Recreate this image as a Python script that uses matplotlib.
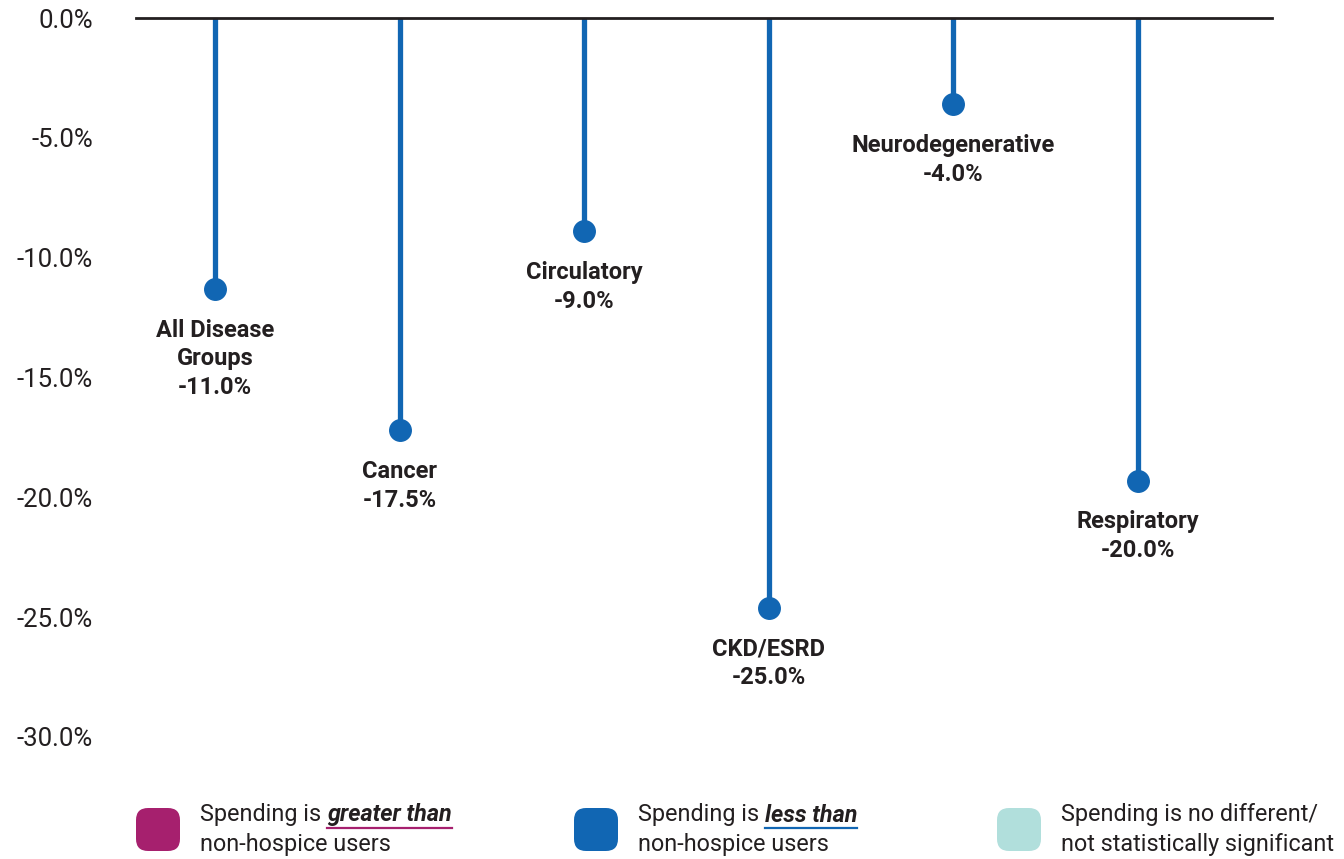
import matplotlib
matplotlib.use("Agg")
import matplotlib.pyplot as plt
from matplotlib.patches import FancyBboxPatch

# values as drawn (dot positions) and the printed labels
CATEGORIES = ["All Disease\nGroups", "Cancer", "Circulatory", "CKD/ESRD", "Neurodegenerative", "Respiratory"]
VALUES = [-11.3, -17.2, -8.9, -24.6, -3.6, -19.3]
LABELS = ["-11.0%", "-17.5%", "-9.0%", "-25.0%", "-4.0%", "-20.0%"]
YTICKS = [0, -5, -10, -15, -20, -25, -30]

LEGEND = [
    ("Spending is ", "greater than", "non-hospice users", "#a6206e"),
    ("Spending is ", "less than", "non-hospice users", "#1166b3"),
    ("Spending is no different/", "", "not statistically significant", "#b1dfdc"),
]

BLUE = "#1166b3"
INK = "#231f20"
FONT = ["Roboto", "DejaVu Sans"]
plt.rcParams["font.family"] = FONT

W, H = 1344, 859
fig = plt.figure(figsize=(W / 100, H / 100), dpi=100)
ax = fig.add_axes([136 / W, 1 - 737 / H, (1272 - 136) / W, (737 - 18) / H])

xs = list(range(len(VALUES)))
for x, v, cat, lab in zip(xs, VALUES, CATEGORIES, LABELS):
    ax.plot([x, x], [0, v], color=BLUE, lw=3.8, solid_capstyle="butt", zorder=2)
    ax.plot(x, v, "o", color=BLUE, ms=15.5, zorder=3)
    ax.annotate(cat + "\n" + lab, (x, v), xytext=(0, -21.5), textcoords="offset points",
                ha="center", va="top", fontsize=17, fontweight="bold", color=INK,
                linespacing=1.32)

ax.axhline(0, color=INK, lw=2, zorder=4, clip_on=False)
ax.set_xlim((136 - 215) / 184.6, (1272 - 215) / 184.6)
ax.set_ylim(-30, 0)
ax.set_yticks(YTICKS)
ax.set_yticklabels([f"{t:.1f}%" if t else "0.0%" for t in YTICKS], fontsize=18.5, color=INK)
ax.tick_params(axis="y", length=0, pad=31)
ax.set_xticks([])
for s in ax.spines.values():
    s.set_visible(False)

# legend drawn by hand (rounded squares + partly underlined text)
box_x = [136, 574, 997]
fig.canvas.draw()
r = fig.canvas.get_renderer()
for bx, (pre, emph, line2, col) in zip(box_x, LEGEND):
    fig.patches.append(FancyBboxPatch((bx / W, 1 - 851 / H), 44 / W, 43 / H,
                                      boxstyle="round,pad=0,rounding_size=0.009",
                                      transform=fig.transFigure, facecolor=col,
                                      edgecolor="none", mutation_aspect=W / H))
    tx = bx + 64
    t1 = fig.text(tx / W, 1 - 815 / H, pre, fontsize=16.8, color=INK, va="center", ha="left")
    fig.text(tx / W, 1 - 845 / H, line2, fontsize=16.8, color=INK, va="center", ha="left")
    if emph:
        ext = t1.get_window_extent(r)
        t2 = fig.text(ext.x1 / W, 1 - 815 / H, emph, fontsize=16.8, color=INK,
                      fontweight="bold", fontstyle="italic", va="center", ha="left")
        e2 = t2.get_window_extent(r)
        fig.add_artist(plt.Line2D([e2.x0 / W, e2.x1 / W], [(H - 828) / H] * 2,
                                  transform=fig.transFigure, color=col, lw=1.6))

fig.savefig("out.png", dpi=100)
